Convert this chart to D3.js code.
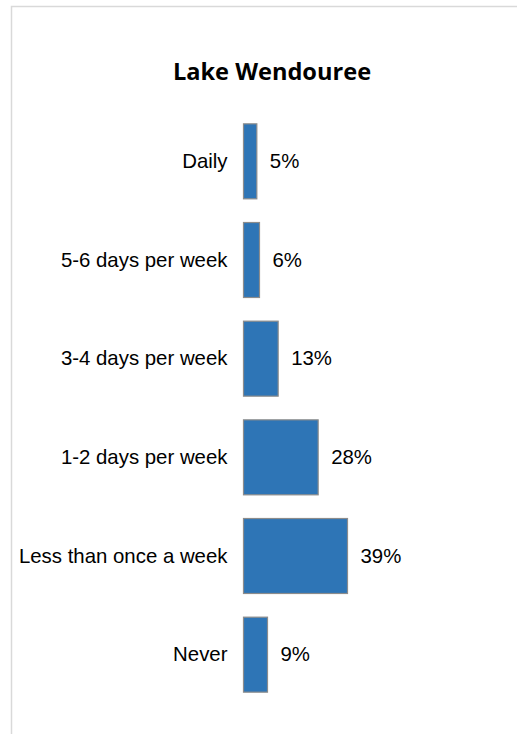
<!DOCTYPE html>
<html>
<head>
<meta charset="utf-8">
<script src="https://cdn.jsdelivr.net/npm/d3@7"></script>
<style>
  html,body{margin:0;padding:0;background:#fff;}
  svg{display:block;}
</style>
</head>
<body>
<svg id="chart" width="517" height="734"></svg>
<script>
// data
var categories=['Daily','5-6 days per week','3-4 days per week','1-2 days per week','Less than once a week','Never'];
var values=[5,6,13,28,39,9];
var title='Lake Wendouree';

var svg=d3.select('#chart');
var W=517, H=734;

// outer frame (chart area border, runs off the right and bottom)
svg.append('rect').attr('x',11.5).attr('y',6.5).attr('width',W+20).attr('height',H+20)
  .attr('fill','#fff').attr('stroke','#d9d9d9').attr('stroke-width',1.5);

svg.append('text').attr('x',272).attr('y',80).attr('text-anchor','middle')
  .attr('font-family','"Open Sans",sans-serif').attr('font-weight','700').attr('font-size','23.6px')
  .attr('fill','#000').text(title);

var x0=243.5;
var x=d3.scaleLinear().domain([0,39]).range([x0,x0+104]);
var y=d3.scaleBand().domain(categories).range([112,704]).paddingInner(0.24).paddingOuter(0.12);

var g=svg.append('g');
categories.forEach(function(c,i){
  var v=values[i];
  g.append('rect')
    .attr('x',x(0)).attr('y',y(c)).attr('width',x(v)-x(0)).attr('height',y.bandwidth())
    .attr('fill','#2e75b6').attr('stroke','#8c8c8c').attr('stroke-width',1.2);

  g.append('text').attr('x',x(0)-16).attr('y',y(c)+y.bandwidth()/2).attr('dy','0.32em')
    .attr('text-anchor','end').attr('font-family','"Liberation Sans",Arial,sans-serif')
    .attr('font-size','20.4px').attr('fill','#000').text(c);

  g.append('text').attr('x',x(v)+13).attr('y',y(c)+y.bandwidth()/2).attr('dy','0.32em')
    .attr('font-family','"Liberation Sans",Arial,sans-serif')
    .attr('font-size','20.4px').attr('fill','#000').text(v+'%');
});
</script>
</body>
</html>
